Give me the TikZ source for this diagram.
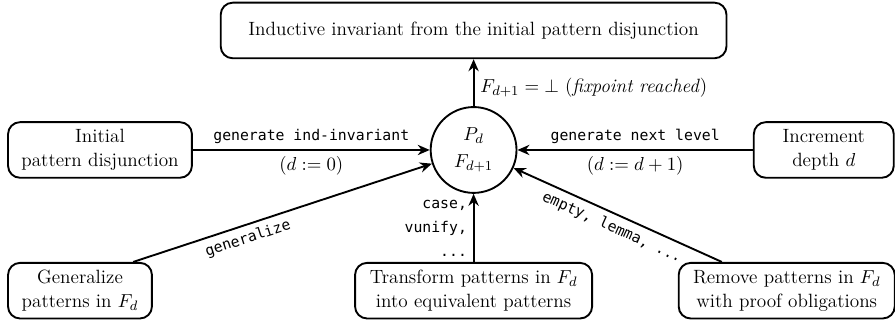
\documentclass[tikz,border=0pt]{standalone}
\usepackage{fontspec}
\setmonofont[Scale=0.77]{DejaVu Sans Mono}
\usetikzlibrary{arrows.meta}

\begin{document}
\begin{tikzpicture}[
                every node/.style={font=\fontsize{11.2pt}{14pt}\selectfont},
                box/.style={rectangle, draw, rounded corners=7pt, line width=1.1pt, align=center, minimum height=1.14cm, inner sep=3pt},
                state/.style={circle, draw, line width=1.1pt, align=center, minimum size=1.76cm, inner sep=0pt},
                arr/.style={-{Stealth[length=7pt, width=6pt]}, line width=1.1pt}
            ]
                \useasboundingbox (0,0) rectangle (18.35,6.56);
                \node[box, minimum width=10.37cm] (inv) at (9.71,5.935) {Inductive invariant from the initial pattern disjunction};
                \node[state] (p) at (9.71,3.485) {$P_d$\\[2pt]$F_{d+1}$};
                \node[box, minimum width=3.77cm] (init) at (2.05,3.485) {Initial\\pattern disjunction};
                \node[box, minimum width=2.87cm] (incr) at (16.89,3.485) {Increment\\depth $d$};
                \node[box, minimum width=2.95cm] (gen) at (1.64,0.6) {Generalize\\patterns in $F_d$};
                \node[box, minimum width=4.86cm] (trans) at (9.71,0.6) {Transform patterns in $F_d$\\into equivalent patterns};
                \node[box, minimum width=4.43cm] (rem) at (16.13,0.6) {Remove patterns in $F_d$\\with proof obligations};
                \draw[arr] (p) -- node[right, pos=0.4] {$F_{d+1} = \bot$ (\textit{fixpoint reached})} (inv);
                \draw[arr] (init) -- node[above] {\texttt{generate ind-invariant}} node[below] {$(d := 0)$} (p);
                \draw[arr] (incr) -- node[above] {\texttt{generate next level}} node[below] {$(d := d+1)$} (p);
                \draw[arr] ([xshift=1.09cm]gen.north) -- node[sloped, below, pos=0.37] {\texttt{generalize}} (p);
                \draw[arr] (trans) -- node[left, align=right] {\texttt{case,}\\\texttt{vunify,}\\\texttt{...}} (p);
                \draw[arr] ([xshift=-1.33cm]rem.north) -- node[sloped, below, pos=0.5] {\texttt{empty, lemma, ...}} (p);
            \end{tikzpicture}
\end{document}
